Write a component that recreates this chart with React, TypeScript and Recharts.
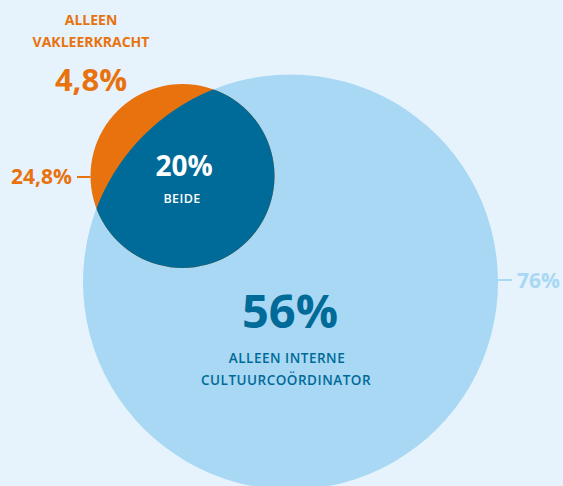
import React from 'react';
import { PieChart, Pie, Cell } from 'recharts';

// ---- data ----
const circleNames = ['Vakleerkracht', 'Interne cultuurcoördinator'];
const circleTotals = [24.8, 76];
const regionNames = ['Alleen vakleerkracht', 'Beide', 'Alleen interne cultuurcoördinator'];
const regionValues = [4.8, 20, 56];
const regionLabelLines = [['ALLEEN', 'VAKLEERKRACHT'], ['BEIDE'], ['ALLEEN INTERNE', 'CULTUURCOÖRDINATOR']];

// ---- layout / style ----
const W = 563;
const H = 486;
const BG = '#e6f3fc';
const LIGHT = '#a8d8f3';
const DARK = '#006a98';
const ORANGE = '#e8720e';
const FONT = '"Open Sans", "Noto Sans", sans-serif';
const BIG = { cx: 290.5, cy: 282, r: 207.5 };
const SMALL = { cx: 182.5, cy: 176, r: 92 };

const fmt = (v: number) => `${String(v).replace('.', ',')}%`;

export default function App() {
  const bigData = [{ name: circleNames[1], value: circleTotals[1] }];
  const smallData = [{ name: circleNames[0], value: circleTotals[0] }];
  const bothData = [{ name: regionNames[1], value: regionValues[1] }];
  return (
    <div style={{ position: 'absolute', left: 0, top: 0, width: W, height: H, background: BG }}>
      <PieChart width={W} height={H} margin={{ top: 0, right: 0, bottom: 0, left: 0 }}>
        <defs>
          <clipPath id="bigClip">
            <circle cx={BIG.cx} cy={BIG.cy} r={BIG.r} />
          </clipPath>
        </defs>
        <Pie data={bigData} dataKey="value" nameKey="name" cx={BIG.cx} cy={BIG.cy} innerRadius={0} outerRadius={BIG.r}
          startAngle={90} endAngle={-270} stroke="none" isAnimationActive={false}>
          <Cell fill={LIGHT} />
        </Pie>
        <Pie data={smallData} dataKey="value" nameKey="name" cx={SMALL.cx} cy={SMALL.cy} innerRadius={0} outerRadius={SMALL.r}
          startAngle={90} endAngle={-270} stroke="none" isAnimationActive={false}>
          <Cell fill={ORANGE} />
        </Pie>
        <Pie data={bothData} dataKey="value" nameKey="name" cx={SMALL.cx} cy={SMALL.cy} innerRadius={0} outerRadius={SMALL.r}
          startAngle={90} endAngle={-270} stroke="none" isAnimationActive={false}>
          <Cell fill={DARK} clipPath="url(#bigClip)" style={{ clipPath: 'url(#bigClip)' }} />
        </Pie>
      </PieChart>
      <svg width={W} height={H} style={{ position: 'absolute', left: 0, top: 0, pointerEvents: 'none' }}>
        <g fontFamily={FONT} fontWeight={700} textAnchor="middle">
          {/* alleen vakleerkracht */}
          <text x={91} y={25} fontSize={14} fill={ORANGE}>{regionLabelLines[0][0]}</text>
          <text x={91} y={47} fontSize={14} fill={ORANGE}>{regionLabelLines[0][1]}</text>
          <text x={91} y={91} fontSize={31} fill={ORANGE}>{fmt(regionValues[0])}</text>

          {/* beide */}
          <text x={184} y={176} fontSize={28} fill="#ffffff">{fmt(regionValues[1])}</text>
          <text x={182} y={203} fontSize={12.5} fill="#ffffff" fontWeight={600} letterSpacing={0.4}>{regionLabelLines[1][0]}</text>

          {/* alleen interne */}
          <text x={290} y={328} fontSize={47} fill={DARK}>{fmt(regionValues[2])}</text>
          <text x={287} y={363} fontSize={13.5} fill={DARK} fontWeight={600} letterSpacing={0.5}>{regionLabelLines[2][0]}</text>
          <text x={286} y={385} fontSize={13.5} fill={DARK} fontWeight={600} letterSpacing={0.5}>{regionLabelLines[2][1]}</text>

          {/* circle totals */}
          <text x={72} y={184} fontSize={21} fill={ORANGE} textAnchor="end">{fmt(circleTotals[0])}</text>
          <line x1={77} x2={SMALL.cx - SMALL.r} y1={SMALL.cy + 1} y2={SMALL.cy + 1} stroke={ORANGE} strokeWidth={2} />
          <text x={517} y={288} fontSize={21} fill={LIGHT} textAnchor="start">{fmt(circleTotals[1])}</text>
          <line x1={BIG.cx + BIG.r} x2={512} y1={280} y2={280} stroke={LIGHT} strokeWidth={2} />
        </g>
      </svg>
    </div>
  );
}
